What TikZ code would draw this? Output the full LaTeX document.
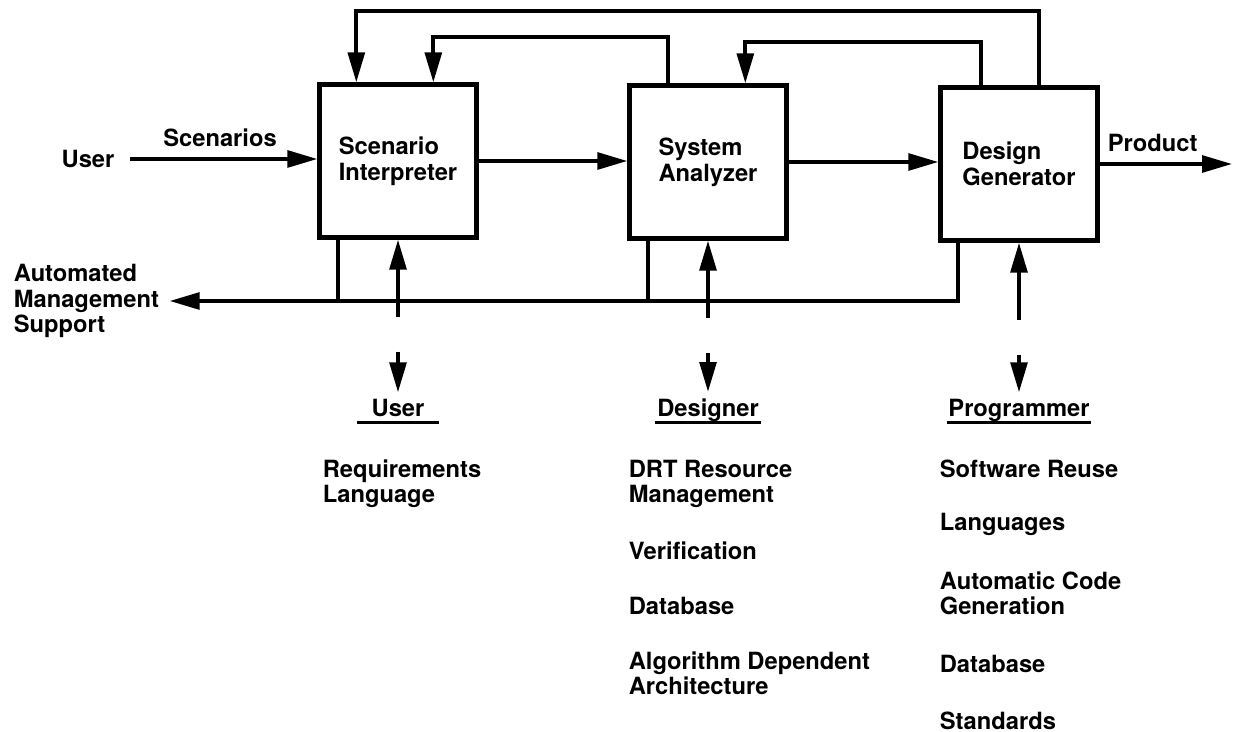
\documentclass[tikz,border=0pt]{standalone}
\usepackage{fontspec}
\setmainfont{TeX Gyre Heros}
\usetikzlibrary{positioning, arrows.meta, calc}

\begin{document}
\begin{tikzpicture}[x=0.02cm, y=-0.02cm, line width=2.1pt,
  >={Triangle[length=17pt, width=9.5pt]},
  block/.style={draw, line width=2.5pt, minimum width=3.14cm, minimum height=3.06cm,
    align=left, font=\bfseries\fontsize{13.5}{15}\selectfont},
  lbl/.style={font=\bfseries\fontsize{13.5}{14.5}\selectfont, align=left, inner sep=0pt},
  role/.style={lbl, inner xsep=0pt, inner ysep=3pt},
  item/.style={lbl, anchor=north west}]

\useasboundingbox (0,0) rectangle (1234,732);

% --- Main blocks ---
\node[block] (si) at (398,161) {Scenario\\Interpreter};
\node[block] (sa) at (708,162) {System\\Analyzer};
\node[block] (dg) at (1019,164) {Design\\Generator};

% --- Forward flow ---
\node[lbl, inner xsep=8pt] (user) at (88,159) {User};
\draw[->] (user.east) -- node[lbl, above=6pt, pos=0.48] {Scenarios} (user.east -| si.west);
\draw[->] (si.east) -- (si.east -| sa.west);
\draw[->] (sa.east) -- (sa.east -| dg.west);
\coordinate (out) at (1232,165);
\draw[->] (dg.east) -- node[lbl, above=6pt, pos=0.4] {Product} (dg.east -| out);

% --- Feedback loops over the top ---
\coordinate (top1) at (0,11);
\coordinate (top2) at (0,37);
\coordinate (top3) at (0,42);
\coordinate (dg-fb1) at ($(dg.north west)+(101,0)$);
\coordinate (dg-fb2) at ($(dg.north west)+(43,0)$);
\coordinate (sa-fb)  at ($(sa.north west)+(41,0)$);
\coordinate (si-in1) at ($(si.north west)+(39,0)$);
\coordinate (si-in2) at ($(si.north west)+(116,0)$);
\coordinate (sa-in)  at ($(sa.north west)+(118,0)$);
\draw[->] (dg-fb1) -- (dg-fb1 |- top1) -| (si-in1);
\draw[->] (sa-fb) -- (sa-fb |- top2) -| (si-in2);
\draw[->] (dg-fb2) -- (dg-fb2 |- top3) -| (sa-in);

% --- Management bus ---
\node[lbl, anchor=west] (ams) at (12,301) {Automated\\Management\\Support};
\coordinate (si-out) at ($(si.south west)+(21,0)$);
\coordinate (sa-out) at ($(sa.south west)+(21,0)$);
\coordinate (dg-out) at ($(dg.south west)+(20,0)$);
\draw[->] (dg-out) |- ([xshift=5pt]ams.east);
\draw (si-out) -- (si-out |- ams.east);
\draw (sa-out) -- (sa-out |- ams.east);

% --- Roles below ---
\node[role, anchor=base, inner xsep=7pt] (usr) at ($(si.south)+(0,177)$) {User};
\node[role, anchor=base] (dsg) at ($(sa.south)+(0,176)$) {Designer};
\node[role, anchor=base] (prg) at ($(dg.south)+(0,174)$) {Programmer};
\foreach \r/\b in {usr/si, dsg/sa, prg/dg} {
  \draw[->] ($(\b.south)+(0,77)$) -- (\b.south);
  \draw[->] ($(\b.south)+(0,112)$) -- (\r.north);
  \draw[line width=1.8pt] ($(\r.base west)+(0,6)$) -- ($(\r.base east)+(0,6)$);
}

% --- User items ---
\node[item] (req) at (321,458) {Requirements\\Language};

% --- Designer items ---
\node[item] (drt) at (627,458) {DRT Resource\\Management};
\node[item] (ver) at (627,540) {Verification};
\node[item] (dbd) at (627,595) {Database};
\node[item] (alg) at (627,650) {Algorithm Dependent\\Architecture};

% --- Programmer items ---
\node[item] (swr) at (938,458) {Software Reuse};
\node[item] (lan) at (938,511) {Languages};
\node[item] (acg) at (938,570) {Automatic Code\\Generation};
\node[item] (dbp) at (938,653) {Database};
\node[item] (std) at (938,710) {Standards};

\end{tikzpicture}
\end{document}
